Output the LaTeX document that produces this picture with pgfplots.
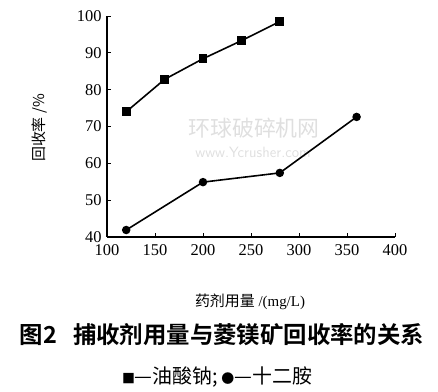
\documentclass[border=0pt]{standalone}
\usepackage{pgfplots}
\pgfplotsset{compat=1.18}
\usepackage{fontspec}
\setmainfont{Liberation Serif}
\newfontfamily\cjk{Noto Sans CJK SC}[BoldFont={Noto Sans CJK SC Bold}]
\begin{document}
\begin{tikzpicture}
\useasboundingbox (0,0) rectangle (438bp,392bp);
% watermark
\node[text=gray!25, font=\cjk\fontsize{22}{22}\selectfont] at (254bp,264bp) {环球破碎机网};
\node[text=gray!25, font=\fontsize{15}{15}\selectfont\sffamily] at (253bp,240bp) {www.Ycrusher.com};
\begin{axis}[
  at={(107bp,155bp)}, anchor=south west,
  scale only axis, width=288bp, height=221bp,
  xmin=100, xmax=400, ymin=40, ymax=100,
  axis lines=left, axis line style={-, line width=1.3pt},
  xtick={100,150,...,400}, ytick={40,50,...,100},
  tick align=inside, major tick length=4bp,
  tick style={line width=1pt, black},
  /pgf/number format/assume math mode=true,
  ticklabel style={font=\fontsize{16.5}{16.5}\selectfont},
  xticklabel style={yshift=-4bp},
  yticklabel style={xshift=-2bp},
  clip=false,
]
\addplot[black, line width=1.6pt, mark=square*, mark size=3.6bp] coordinates {
  (120,74.0) (160,82.8) (200,88.4) (240,93.3) (280,98.5)
};
\addplot[black, line width=1.6pt, mark=*, mark size=3.4bp] coordinates {
  (120,41.9) (200,54.9) (280,57.4) (360,72.6)
};
\end{axis}
\node[rotate=90, font=\cjk\fontsize{15}{15}\selectfont] at (40bp,264bp) {回收率 /\%};
\node[font=\fontsize{15}{15}\selectfont] at (250bp,90bp) {{\cjk 药剂用量} /(mg/L)};
\node[font=\cjk\bfseries\fontsize{23.5}{23.5}\selectfont] at (222bp,57bp) {图2\hspace{16bp}捕收剂用量与菱镁矿回收率的关系};
\node[font=\cjk\fontsize{20}{20}\selectfont, inner sep=0pt] at (217bp,15bp) {{\fontsize{13}{13}\selectfont■}—油酸钠;\,{\fontsize{13}{13}\selectfont●}—十二胺};
\end{tikzpicture}
\end{document}
